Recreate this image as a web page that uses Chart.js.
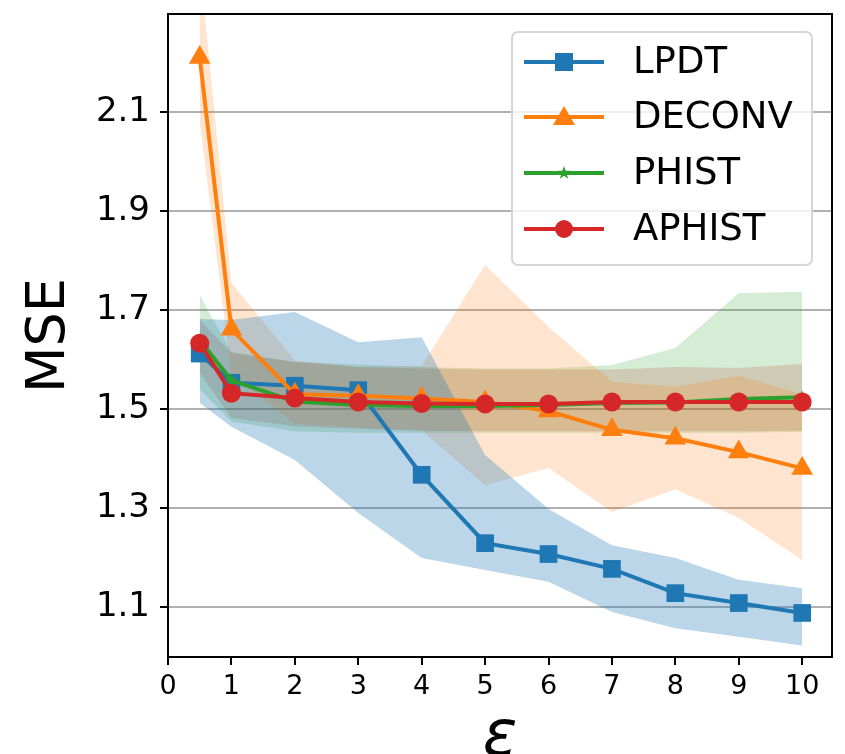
<!DOCTYPE html>
<html>
<head>
  <meta charset="utf-8">
  <script src="https://cdn.jsdelivr.net/npm/chart.js"></script>
  <style>
    body { margin: 0; background: #fff; }
    #wrap { width: 845px; height: 754px; }
  </style>
</head>
<body>
  <div id="wrap"><canvas id="mseChart" width="845" height="754"></canvas></div>

  <script>
    // privacy budget values on the x axis
    const epsilons = [0.5, 1, 2, 3, 4, 5, 6, 7, 8, 9, 10];

    // mean MSE per method
    const lpdtMean   = [1.612, 1.553, 1.547, 1.538, 1.367, 1.229, 1.207, 1.177, 1.128, 1.108, 1.088];
    const deconvMean = [2.210, 1.661, 1.530, 1.527, 1.521, 1.514, 1.496, 1.458, 1.441, 1.413, 1.380];
    const phistMean  = [1.639, 1.558, 1.515, 1.508, 1.506, 1.506, 1.508, 1.512, 1.513, 1.520, 1.524];
    const aphistMean = [1.633, 1.532, 1.522, 1.514, 1.511, 1.510, 1.510, 1.514, 1.514, 1.514, 1.514];

    // spread bands (upper / lower)
    const lpdtUpper   = [1.682, 1.680, 1.696, 1.635, 1.645, 1.407, 1.298, 1.225, 1.199, 1.155, 1.138];
    const lpdtLower   = [1.512, 1.464, 1.397, 1.290, 1.199, 1.175, 1.151, 1.090, 1.057, 1.040, 1.022];
    const deconvUpper = [2.400, 1.755, 1.598, 1.585, 1.587, 1.791, 1.666, 1.555, 1.545, 1.567, 1.530];
    const deconvLower = [2.080, 1.570, 1.470, 1.462, 1.457, 1.346, 1.381, 1.292, 1.338, 1.280, 1.195];
    const phistUpper  = [1.730, 1.615, 1.595, 1.590, 1.585, 1.582, 1.582, 1.589, 1.623, 1.734, 1.737];
    const phistLower  = [1.540, 1.475, 1.455, 1.452, 1.452, 1.452, 1.452, 1.452, 1.452, 1.452, 1.454];
    const aphistUpper = [1.680, 1.613, 1.595, 1.585, 1.582, 1.580, 1.580, 1.580, 1.585, 1.583, 1.591];
    const aphistLower = [1.573, 1.482, 1.465, 1.460, 1.456, 1.455, 1.455, 1.455, 1.455, 1.455, 1.456];

    const yTicks = [1.1, 1.3, 1.5, 1.7, 1.9, 2.1];
    const xTicks = [0, 1, 2, 3, 4, 5, 6, 7, 8, 9, 10];

    const BLUE = '#1f77b4', ORANGE = '#ff7f0e', GREEN = '#2ca02c', RED = '#d62728';

    function pts(ys) {
      return epsilons.map((x, i) => ({ x: x, y: ys[i] }));
    }

    // small filled star used as the PHIST marker
    function starImage(r, color) {
      const c = document.createElement('canvas');
      c.width = c.height = Math.ceil(r * 2 + 2);
      const g = c.getContext('2d');
      drawStar(g, c.width / 2, c.height / 2, r, color);
      return c;
    }
    function drawStar(g, cx, cy, r, color) {
      g.beginPath();
      for (let i = 0; i < 10; i++) {
        const rad = i % 2 === 0 ? r : r * 0.4;
        const a = -Math.PI / 2 + i * Math.PI / 5;
        g.lineTo(cx + rad * Math.cos(a), cy + rad * Math.sin(a));
      }
      g.closePath();
      g.fillStyle = color;
      g.fill();
    }

    function lineSet(label, ys, color, style, radius, order) {
      return {
        label: label, data: pts(ys), borderColor: color, backgroundColor: color,
        borderWidth: 4, pointStyle: style, pointRadius: radius, pointHoverRadius: radius,
        pointBorderWidth: 0, pointBackgroundColor: color, fill: false, tension: 0, order: order
      };
    }
    function bandPair(upper, lower, fillColor) {
      return [
        { label: '', data: pts(upper), borderWidth: 0, pointRadius: 0, fill: '+1',
          backgroundColor: fillColor, borderColor: 'transparent', tension: 0, order: 20 },
        { label: '', data: pts(lower), borderWidth: 0, pointRadius: 0, fill: false,
          borderColor: 'transparent', tension: 0, order: 20 }
      ];
    }

    const star = starImage(7, GREEN);

    // legend box drawn inside the plot, plus the top/right frame
    const frameAndLegend = {
      id: 'frameAndLegend',
      afterDraw(chart) {
        const ctx = chart.ctx;
        const a = chart.chartArea;
        ctx.save();
        ctx.strokeStyle = '#000';
        ctx.lineWidth = 2;
        ctx.strokeRect(a.left, a.top, a.right - a.left, a.bottom - a.top);

        const bx = 512, by = 32, bw = 300, bh = 233, rr = 6;
        ctx.beginPath();
        ctx.moveTo(bx + rr, by);
        ctx.arcTo(bx + bw, by, bx + bw, by + bh, rr);
        ctx.arcTo(bx + bw, by + bh, bx, by + bh, rr);
        ctx.arcTo(bx, by + bh, bx, by, rr);
        ctx.arcTo(bx, by, bx + bw, by, rr);
        ctx.closePath();
        ctx.fillStyle = 'rgba(255,255,255,0.8)';
        ctx.fill();
        ctx.strokeStyle = '#d6d6d6';
        ctx.lineWidth = 2;
        ctx.stroke();

        const rows = [
          { text: 'LPDT', color: BLUE, mark: 'square', y: 62 },
          { text: 'DECONV', color: ORANGE, mark: 'triangle', y: 117 },
          { text: 'PHIST', color: GREEN, mark: 'star', y: 173 },
          { text: 'APHIST', color: RED, mark: 'circle', y: 229 }
        ];
        rows.forEach(r => {
          ctx.strokeStyle = r.color;
          ctx.lineWidth = 4;
          ctx.beginPath();
          ctx.moveTo(524, r.y);
          ctx.lineTo(604, r.y);
          ctx.stroke();
          ctx.fillStyle = r.color;
          const mx = 564;
          if (r.mark === 'square') {
            ctx.fillRect(mx - 9, r.y - 9, 18, 18);
          } else if (r.mark === 'triangle') {
            ctx.beginPath();
            ctx.moveTo(mx, r.y - 11);
            ctx.lineTo(mx + 11, r.y + 8);
            ctx.lineTo(mx - 11, r.y + 8);
            ctx.closePath();
            ctx.fill();
          } else if (r.mark === 'star') {
            drawStar(ctx, mx, r.y, 7, r.color);
          } else {
            ctx.beginPath();
            ctx.arc(mx, r.y, 9, 0, Math.PI * 2);
            ctx.fill();
          }
          ctx.fillStyle = '#000';
          ctx.font = '37px "DejaVu Sans"';
          ctx.textBaseline = 'middle';
          ctx.textAlign = 'left';
          ctx.fillText(r.text, 633, r.y + 1);
        });
        ctx.restore();
      }
    };

    const ctx = document.getElementById('mseChart').getContext('2d');
    new Chart(ctx, {
      type: 'line',
      data: {
        datasets: [
          lineSet('LPDT', lpdtMean, BLUE, 'rect', 12.5, 4),
          lineSet('DECONV', deconvMean, ORANGE, 'triangle', 12.5, 3),
          lineSet('PHIST', phistMean, GREEN, star, 7, 2),
          lineSet('APHIST', aphistMean, RED, 'circle', 9.5, 1),
          ...bandPair(lpdtUpper, lpdtLower, 'rgba(31,119,180,0.3)'),
          ...bandPair(deconvUpper, deconvLower, 'rgba(255,127,14,0.2)'),
          ...bandPair(phistUpper, phistLower, 'rgba(44,160,44,0.2)'),
          ...bandPair(aphistUpper, aphistLower, 'rgba(214,39,40,0.2)')
        ]
      },
      options: {
        responsive: false,
        devicePixelRatio: 1,
        animation: false,
        layout: { padding: { left: 0, top: 14, right: 13, bottom: 0 } },
        plugins: {
          legend: { display: false },
          tooltip: { enabled: false },
          filler: { drawTime: 'beforeDatasetsDraw' }
        },
        scales: {
          x: {
            type: 'linear',
            min: 0,
            max: 10.47,
            afterFit: s => { s.height = 97; s.paddingLeft = 0; s.paddingRight = 0; },
            afterBuildTicks: s => { s.ticks = xTicks.map(v => ({ value: v })); },
            grid: { drawOnChartArea: false, tickLength: 8, tickColor: '#000', lineWidth: 2 },
            border: { color: '#000', width: 2 },
            ticks: { color: '#000', font: { family: 'DejaVu Sans', size: 27 }, padding: 6,
                     maxRotation: 0, callback: v => String(v) },
            title: { display: true, text: 'ε', color: '#000',
                     font: { family: 'DejaVu Sans', size: 64, style: 'italic', lineHeight: 0.5 },
                     padding: { top: 0, bottom: 0 } }
          },
          y: {
            type: 'linear',
            min: 0.999,
            max: 2.298,
            afterFit: s => { s.width = 168; s.paddingTop = 0; s.paddingBottom = 0; },
            afterBuildTicks: s => { s.ticks = yTicks.map(v => ({ value: v })); },
            grid: { color: '#b0b0b0', tickLength: 8, tickColor: '#000', lineWidth: 2 },
            border: { color: '#000', width: 2 },
            ticks: { color: '#000', font: { family: 'DejaVu Sans', size: 34 }, padding: 10,
                     callback: v => Number(v).toFixed(1) },
            title: { display: true, text: 'MSE', color: '#000',
                     font: { family: 'DejaVu Sans', size: 54 },
                     padding: { top: 18, bottom: 0 } }
          }
        }
      },
      plugins: [frameAndLegend]
    });
  </script>
</body>
</html>
